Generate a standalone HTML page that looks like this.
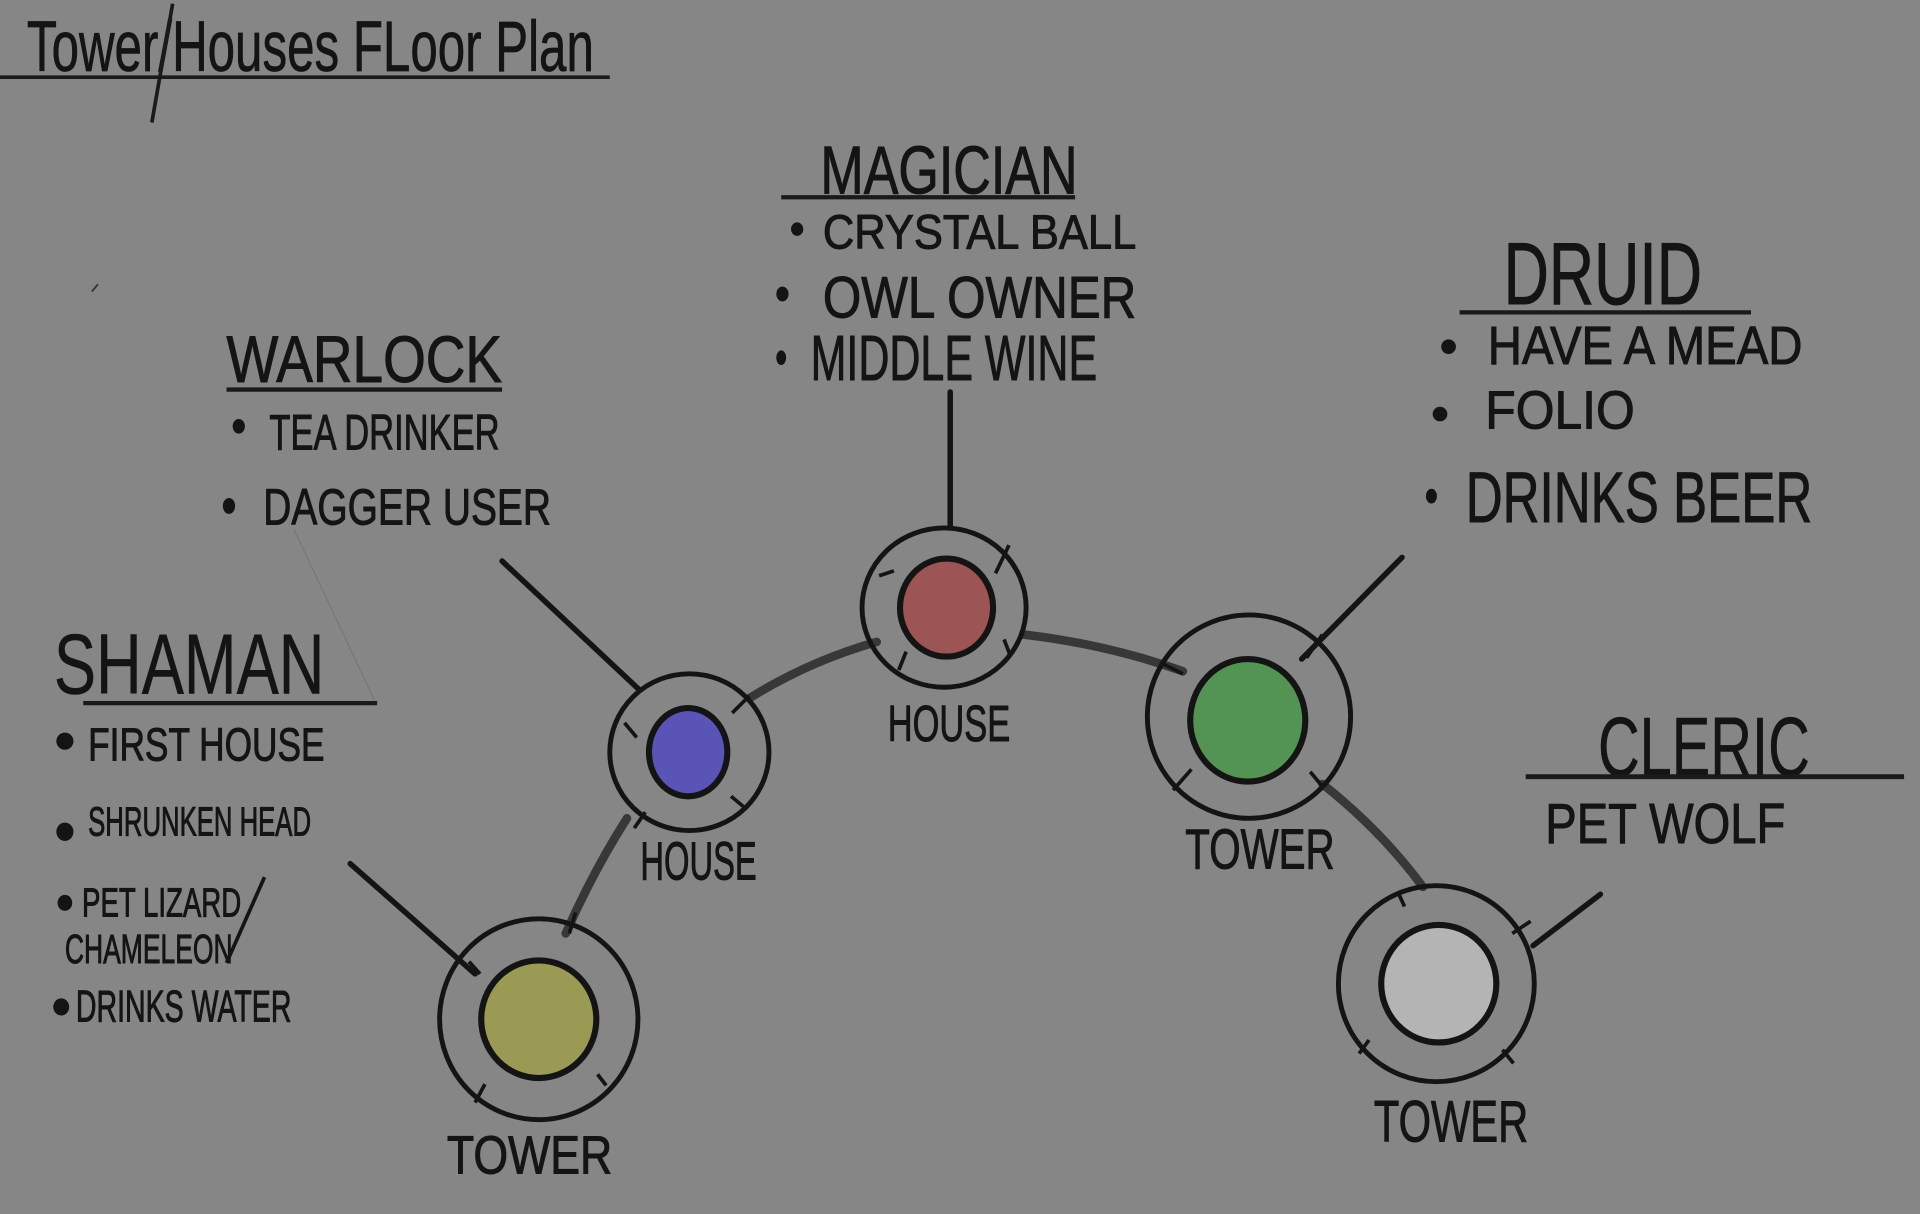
<!DOCTYPE html>
<html>
<head>
<meta charset="utf-8">
<style>
html,body{margin:0;padding:0;background:#868686;}
svg{display:block;}
text{font-family:"Liberation Sans",sans-serif;fill:#141414;stroke:#141414;stroke-width:0.8;}
</style>
</head>
<body>
<svg width="1920" height="1214" viewBox="0 0 1568 991" preserveAspectRatio="none" xmlns="http://www.w3.org/2000/svg">
<rect x="0" y="0" width="1568" height="991" fill="#868686"/>

<!-- Title -->
<text x="22" y="58" font-size="58" textLength="463" lengthAdjust="spacingAndGlyphs" style="stroke-width:0.6">Tower/Houses  FLoor Plan</text>
<line x1="0" y1="63" x2="498" y2="63" stroke="#1a1a1a" stroke-width="3"/>
<line x1="141" y1="3" x2="124" y2="100" stroke="#1a1a1a" stroke-width="3"/>
<line x1="75" y1="238" x2="80" y2="232" stroke="#333" stroke-width="1.5"/>

<!-- Connectors (thick gray) -->
<g fill="none" stroke="#383838" stroke-width="7" stroke-linecap="round">
  <path d="M462,762 Q484,712 512,668"/>
  <path d="M612,570 Q660,540 716,524"/>
  <path d="M836,518 Q905,526 966,548"/>
  <path d="M1080,640 Q1128,678 1162,724"/>
</g>

<!-- Leader lines -->
<g stroke="#141414" stroke-width="4.5" stroke-linecap="round">
  <line x1="776" y1="320" x2="776" y2="430"/>
  <line x1="1145" y1="455" x2="1063" y2="538"/>
  <line x1="410" y1="458" x2="522" y2="563"/>
  <line x1="286" y1="705" x2="388" y2="795"/>
  <line x1="1307" y1="730" x2="1252" y2="772"/>
</g>
<line x1="240" y1="432" x2="306" y2="572" stroke="#777" stroke-width="1"/>

<!-- Nodes -->
<g stroke="#141414" fill="none" stroke-width="4">
  <!-- blue house -->
  <ellipse cx="563" cy="614" rx="65" ry="64"/>
  <ellipse cx="562" cy="614" rx="32" ry="36" fill="#5a54b6" stroke-width="5"/>
  <line x1="510" y1="590" x2="520" y2="602" stroke-width="3"/>
  <line x1="612" y1="568" x2="598" y2="582" stroke-width="3"/>
  <line x1="609" y1="660" x2="597" y2="650" stroke-width="3"/>
  <line x1="527" y1="663" x2="518" y2="676" stroke-width="3"/>
  <!-- red house -->
  <ellipse cx="771" cy="496" rx="67" ry="65"/>
  <ellipse cx="773" cy="496" rx="38" ry="40" fill="#9d5454" stroke-width="5"/>
  <line x1="718" y1="470" x2="730" y2="466" stroke-width="3"/>
  <line x1="824" y1="445" x2="813" y2="468" stroke-width="3"/>
  <line x1="820" y1="522" x2="825" y2="535" stroke-width="3"/>
  <line x1="740" y1="532" x2="734" y2="547" stroke-width="3"/>
  <!-- green tower -->
  <ellipse cx="1020" cy="585" rx="83" ry="83"/>
  <ellipse cx="1019" cy="588" rx="47" ry="50" fill="#539455" stroke-width="5"/>
  <line x1="948" y1="541" x2="966" y2="550" stroke-width="3"/>
  <line x1="1080" y1="518" x2="1067" y2="537" stroke-width="3"/>
  <line x1="1070" y1="630" x2="1080" y2="642" stroke-width="3"/>
  <line x1="973" y1="628" x2="958" y2="645" stroke-width="3"/>
  <!-- olive tower -->
  <ellipse cx="440" cy="832" rx="81" ry="82"/>
  <ellipse cx="440" cy="832" rx="47" ry="48" fill="#9b9a55" stroke-width="5"/>
  <line x1="383" y1="785" x2="392" y2="795" stroke-width="3"/>
  <line x1="470" y1="745" x2="465" y2="762" stroke-width="3"/>
  <line x1="488" y1="877" x2="495" y2="886" stroke-width="3"/>
  <line x1="396" y1="885" x2="388" y2="900" stroke-width="3"/>
  <!-- white tower -->
  <ellipse cx="1173" cy="803" rx="80" ry="80"/>
  <ellipse cx="1175" cy="803" rx="47" ry="48" fill="#b4b4b4" stroke-width="5"/>
  <line x1="1142" y1="729" x2="1147" y2="740" stroke-width="3"/>
  <line x1="1235" y1="762" x2="1250" y2="752" stroke-width="3"/>
  <line x1="1227" y1="857" x2="1236" y2="868" stroke-width="3"/>
  <line x1="1118" y1="849" x2="1110" y2="860" stroke-width="3"/>
</g>

<!-- Node labels -->
<text x="523" y="718" font-size="44" textLength="95" lengthAdjust="spacingAndGlyphs">HOUSE</text>
<text x="725" y="605" font-size="42" textLength="100" lengthAdjust="spacingAndGlyphs">HOUSE</text>
<text x="968" y="709" font-size="46" textLength="122" lengthAdjust="spacingAndGlyphs">TOWER</text>
<text x="365" y="958" font-size="44" textLength="135" lengthAdjust="spacingAndGlyphs">TOWER</text>
<text x="1122" y="932" font-size="48" textLength="126" lengthAdjust="spacingAndGlyphs">TOWER</text>

<!-- MAGICIAN -->
<text x="670" y="158" font-size="55" textLength="210" lengthAdjust="spacingAndGlyphs">MAGICIAN</text>
<line x1="638" y1="161" x2="878" y2="161" stroke="#1a1a1a" stroke-width="3.5"/>
<ellipse cx="651" cy="187" rx="5" ry="5.5" fill="#141414"/>
<text x="672" y="203" font-size="39" textLength="256" lengthAdjust="spacingAndGlyphs">CRYSTAL BALL</text>
<ellipse cx="639" cy="240" rx="5" ry="6" fill="#141414"/>
<text x="672" y="259" font-size="48" textLength="256" lengthAdjust="spacingAndGlyphs">OWL  OWNER</text>
<ellipse cx="638" cy="292" rx="4" ry="6" fill="#141414"/>
<text x="662" y="310" font-size="52" textLength="234" lengthAdjust="spacingAndGlyphs">MIDDLE WINE</text>

<!-- DRUID -->
<text x="1228" y="248" font-size="72" textLength="162" lengthAdjust="spacingAndGlyphs">DRUID</text>
<line x1="1192" y1="255" x2="1430" y2="255" stroke="#1a1a1a" stroke-width="3.5"/>
<ellipse cx="1183" cy="283" rx="6" ry="6" fill="#141414"/>
<text x="1215" y="297" font-size="44" textLength="257" lengthAdjust="spacingAndGlyphs">HAVE A MEAD</text>
<ellipse cx="1176" cy="338" rx="6" ry="6" fill="#141414"/>
<text x="1213" y="350" font-size="44" textLength="122" lengthAdjust="spacingAndGlyphs">FOLIO</text>
<ellipse cx="1169" cy="405" rx="4.5" ry="6" fill="#141414"/>
<text x="1197" y="426" font-size="58" textLength="283" lengthAdjust="spacingAndGlyphs">DRINKS  BEER</text>

<!-- WARLOCK -->
<text x="185" y="312" font-size="54" textLength="225" lengthAdjust="spacingAndGlyphs">WARLOCK</text>
<line x1="185" y1="318" x2="410" y2="318" stroke="#1a1a1a" stroke-width="3.5"/>
<ellipse cx="195" cy="348" rx="5" ry="6" fill="#141414"/>
<text x="220" y="367" font-size="41" textLength="188" lengthAdjust="spacingAndGlyphs">TEA DRINKER</text>
<ellipse cx="187" cy="413" rx="5" ry="6.5" fill="#141414"/>
<text x="215" y="428" font-size="42" textLength="235" lengthAdjust="spacingAndGlyphs">DAGGER USER</text>

<!-- SHAMAN -->
<text x="44" y="566" font-size="70" textLength="221" lengthAdjust="spacingAndGlyphs" style="stroke-width:0.4">SHAMAN</text>
<line x1="68" y1="574" x2="308" y2="574" stroke="#1a1a1a" stroke-width="3.5"/>
<ellipse cx="53" cy="605" rx="7" ry="7" fill="#141414"/>
<text x="72" y="621" font-size="38" textLength="193" lengthAdjust="spacingAndGlyphs">FIRST  HOUSE</text>
<ellipse cx="53" cy="679" rx="7" ry="7.5" fill="#141414"/>
<text x="72" y="682" font-size="33" textLength="182" lengthAdjust="spacingAndGlyphs">SHRUNKEN HEAD</text>
<ellipse cx="53" cy="737" rx="6" ry="6.5" fill="#141414"/>
<text x="67" y="748" font-size="33" textLength="130" lengthAdjust="spacingAndGlyphs">PET LIZARD</text>
<line x1="216" y1="716" x2="185" y2="786" stroke="#141414" stroke-width="3"/>
<text x="53" y="786" font-size="33" textLength="137" lengthAdjust="spacingAndGlyphs">CHAMELEON</text>
<ellipse cx="50" cy="822" rx="6.5" ry="7" fill="#141414"/>
<text x="62" y="834" font-size="36" textLength="176" lengthAdjust="spacingAndGlyphs">DRINKS WATER</text>

<!-- CLERIC -->
<text x="1305" y="633" font-size="68" textLength="173" lengthAdjust="spacingAndGlyphs" style="stroke-width:0.4">CLERIC</text>
<line x1="1246" y1="634" x2="1555" y2="634" stroke="#1a1a1a" stroke-width="4"/>
<text x="1262" y="688" font-size="46" textLength="196" lengthAdjust="spacingAndGlyphs">PET  WOLF</text>
</svg>
</body>
</html>
